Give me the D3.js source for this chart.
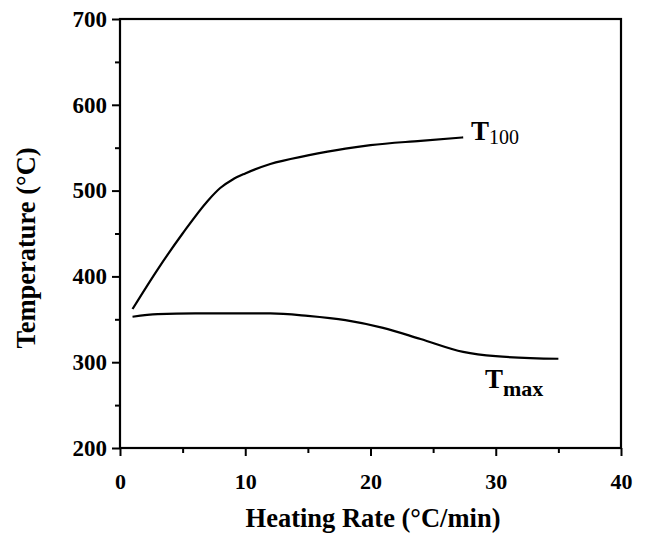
<!DOCTYPE html>
<html>
<head>
<meta charset="utf-8">
<script src="https://cdn.jsdelivr.net/npm/d3@7"></script>
<style>
  body { margin: 0; background: #fff; }
  text { font-family: "Liberation Serif", "Times New Roman", serif; font-weight: bold; }
</style>
</head>
<body>
<div id="chart"></div>
<script>
// heating rate (°C/min) and temperatures (°C)
const t100Rate = [1, 3, 5, 7, 8, 9, 10, 12, 15, 18, 20, 24, 27.4];
const t100Temp = [362, 408, 450, 488, 503, 513, 520, 531, 541, 549, 553, 558, 562];

const tmaxRate = [1, 3, 6, 9, 12, 15, 18, 21, 24, 27.4, 30, 35];
const tmaxTemp = [353, 356, 357, 357, 357, 354, 349, 340, 327, 312, 307, 304];

const xTicks = [0, 10, 20, 30, 40];
const yTicks = [200, 300, 400, 500, 600, 700];

const width = 646, height = 535;
const margin = {top: 19, right: 25, bottom: 87, left: 120};

const svg = d3.select('#chart')
  .append('svg')
  .attr('width', width)
  .attr('height', height);

const x = d3.scaleLinear()
  .domain([0, 40])
  .range([margin.left, width - margin.right]);

const y = d3.scaleLinear()
  .domain([200, 700])
  .range([height - margin.bottom, margin.top]);

// frame
svg.append('rect')
  .attr('x', x(0)).attr('y', y(700))
  .attr('width', x(40) - x(0)).attr('height', y(200) - y(700))
  .attr('fill', 'none').attr('stroke', '#000').attr('stroke-width', 2.2);

// minor ticks
svg.append('g')
  .attr('transform', `translate(0,${y(200)})`)
  .call(d3.axisBottom(x).tickValues([5, 15, 25, 35]).tickSize(5).tickFormat(''))
  .call(g => g.select('.domain').remove())
  .selectAll('line').attr('stroke-width', 2);

svg.append('g')
  .attr('transform', `translate(${x(0)},0)`)
  .call(d3.axisLeft(y).tickValues([250, 350, 450, 550, 650]).tickSize(5).tickFormat(''))
  .call(g => g.select('.domain').remove())
  .selectAll('line').attr('stroke-width', 2);

// major axes
function xAxis(g) {
  g.attr('transform', `translate(0,${y(200)})`)
   .call(d3.axisBottom(x).tickValues(xTicks).tickSize(8).tickPadding(17))
   .attr('font-size', '22px')
   .attr('font-family', null);
  g.select('.domain').remove();
  g.selectAll('line').attr('stroke-width', 2);
}

function yAxis(g) {
  g.attr('transform', `translate(${x(0)},0)`)
   .call(d3.axisLeft(y).tickValues(yTicks).tickSize(8).tickPadding(5))
   .attr('font-size', '23px')
   .attr('font-family', null);
  g.select('.domain').remove();
  g.selectAll('line').attr('stroke-width', 2);
}

svg.append('g').call(xAxis);
svg.append('g').call(yAxis);

// curves
const line = d3.line()
  .x(d => x(d[0]))
  .y(d => y(d[1]))
  .curve(d3.curveMonotoneX);

svg.append('path')
  .datum(d3.zip(t100Rate, t100Temp))
  .attr('d', line)
  .attr('fill', 'none').attr('stroke', '#000').attr('stroke-width', 2.2);

svg.append('path')
  .datum(d3.zip(tmaxRate, tmaxTemp))
  .attr('d', line)
  .attr('fill', 'none').attr('stroke', '#000').attr('stroke-width', 2.2);

// curve labels
const lab1 = svg.append('text').attr('x', 471).attr('y', 140).attr('font-size', '27px');
lab1.append('tspan').text('T');
lab1.append('tspan').attr('dy', 4).attr('font-size', '20px').attr('font-weight', 'normal').text('100');

const lab2 = svg.append('text').attr('x', 485).attr('y', 388).attr('font-size', '27px');
lab2.append('tspan').text('T');
lab2.append('tspan').attr('dy', 8).attr('font-size', '22px').text('max');

// axis titles
svg.append('text')
  .attr('x', 373)
  .attr('y', 527)
  .attr('text-anchor', 'middle')
  .attr('font-size', '26.5px')
  .text('Heating Rate (°C/min)');

svg.append('text')
  .attr('transform', `translate(35,248) rotate(-90)`)
  .attr('text-anchor', 'middle')
  .attr('font-size', '26.5px')
  .text('Temperature (°C)');
</script>
</body>
</html>
